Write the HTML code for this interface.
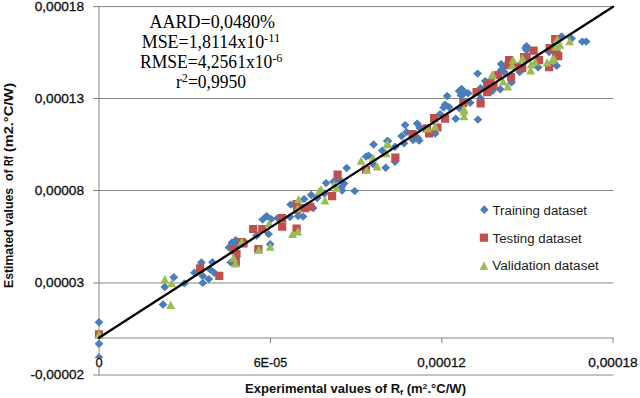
<!DOCTYPE html>
<html><head><meta charset="utf-8"><title>Rf chart</title>
<style>
html,body{margin:0;padding:0;background:#fff;}
body{width:640px;height:398px;overflow:hidden;}
svg{display:block;}
.s{font-family:"Liberation Sans",sans-serif;fill:#111;stroke:#111;stroke-width:0.3px;}
.t{font-family:"Liberation Serif",serif;fill:#000;}
</style></head><body>
<svg width="640" height="398" viewBox="0 0 640 398">
<rect width="640" height="398" fill="#fff"/>
<g stroke="#868686" stroke-width="1" fill="none"><path d="M93 6.6H613.6"/><path d="M93 98.5H613.6"/><path d="M93 190.5H613.6"/><path d="M93 283.0H613.6"/><path d="M93 375.0H613.6"/>
<path d="M99 6V375.5"/>
<path d="M99 338H613.6"/>
<path d="M270.4 338V343.2M441.8 338V343.2M613.1 338V343.2"/>
</g>
<path d="M94.6 322.3L99.0 318.1L103.4 322.3L99.0 326.5ZM94.6 343.7L99.0 339.5L103.4 343.7L99.0 347.9ZM94.6 357.5L99.0 353.3L103.4 357.5L99.0 361.7ZM169.4 277.3L173.8 273.1L178.2 277.3L173.8 281.5ZM160.4 287.0L164.8 282.8L169.2 287.0L164.8 291.2ZM180.0 283.4L184.4 279.2L188.8 283.4L184.4 287.6ZM158.6 304.5L163.0 300.3L167.4 304.5L163.0 308.7ZM196.9 262.5L201.3 258.3L205.7 262.5L201.3 266.7ZM190.1 272.8L194.5 268.6L198.9 272.8L194.5 277.0ZM198.4 276.1L202.8 271.9L207.2 276.1L202.8 280.3ZM198.4 282.9L202.8 278.7L207.2 282.9L202.8 287.1ZM204.4 279.1L208.8 274.9L213.2 279.1L208.8 283.3ZM208.1 262.2L212.5 258.0L216.9 262.2L212.5 266.4ZM205.5 269.2L209.9 265.0L214.3 269.2L209.9 273.4ZM209.9 272.7L214.3 268.5L218.7 272.7L214.3 276.9ZM224.6 247.4L229.0 243.2L233.4 247.4L229.0 251.6ZM227.4 242.8L231.8 238.6L236.2 242.8L231.8 247.0ZM231.4 240.1L235.8 235.9L240.2 240.1L235.8 244.3ZM229.1 246.0L233.5 241.8L237.9 246.0L233.5 250.2ZM233.6 246.0L238.0 241.8L242.4 246.0L238.0 250.2ZM226.4 262.4L230.8 258.2L235.2 262.4L230.8 266.6ZM258.2 219.6L262.6 215.4L267.0 219.6L262.6 223.8ZM262.2 216.1L266.6 211.9L271.0 216.1L266.6 220.3ZM266.7 219.1L271.1 214.9L275.5 219.1L271.1 223.3ZM264.2 234.1L268.6 229.9L273.0 234.1L268.6 238.3ZM252.2 235.5L256.6 231.3L261.0 235.5L256.6 239.7ZM273.2 218.1L277.6 213.9L282.0 218.1L277.6 222.3ZM265.8 244.3L270.2 240.1L274.6 244.3L270.2 248.5ZM286.2 204.6L290.6 200.4L295.0 204.6L290.6 208.8ZM299.7 199.1L304.1 194.9L308.5 199.1L304.1 203.3ZM306.8 195.0L311.2 190.8L315.6 195.0L311.2 199.2ZM312.8 198.0L317.2 193.8L321.6 198.0L317.2 202.2ZM308.8 208.1L313.2 203.9L317.6 208.1L313.2 212.3ZM293.7 216.1L298.1 211.9L302.5 216.1L298.1 220.3ZM298.7 216.6L303.1 212.4L307.5 216.6L303.1 220.8ZM285.6 217.1L290.0 212.9L294.4 217.1L290.0 221.3ZM342.3 168.0L346.7 163.8L351.1 168.0L346.7 172.2ZM321.7 183.1L326.1 178.9L330.5 183.1L326.1 187.3ZM329.2 181.6L333.6 177.4L338.0 181.6L333.6 185.8ZM334.7 179.1L339.1 174.9L343.5 179.1L339.1 183.3ZM339.7 183.6L344.1 179.4L348.5 183.6L344.1 187.8ZM337.2 187.1L341.6 182.9L346.0 187.1L341.6 191.3ZM337.7 190.6L342.1 186.4L346.5 190.6L342.1 194.8ZM350.3 191.1L354.7 186.9L359.1 191.1L354.7 195.3ZM320.1 193.5L324.5 189.3L328.9 193.5L324.5 197.7ZM369.2 144.5L373.6 140.3L378.0 144.5L373.6 148.7ZM382.8 141.0L387.2 136.8L391.6 141.0L387.2 145.2ZM377.8 150.6L382.2 146.4L386.6 150.6L382.2 154.8ZM361.7 156.6L366.1 152.4L370.5 156.6L366.1 160.8ZM364.2 155.6L368.6 151.4L373.0 155.6L368.6 159.8ZM368.7 164.1L373.1 159.9L377.5 164.1L373.1 168.3ZM381.3 167.7L385.7 163.5L390.1 167.7L385.7 171.9ZM400.7 125.1L405.1 120.9L409.5 125.1L405.1 129.3ZM412.8 123.6L417.2 119.4L421.6 123.6L417.2 127.8ZM415.3 127.1L419.7 122.9L424.1 127.1L419.7 131.3ZM402.2 132.1L406.6 127.9L411.0 132.1L406.6 136.3ZM397.2 136.1L401.6 131.9L406.0 136.1L401.6 140.3ZM399.7 143.2L404.1 139.0L408.5 143.2L404.1 147.4ZM408.7 140.1L413.1 135.9L417.5 140.1L413.1 144.3ZM414.8 140.6L419.2 136.4L423.6 140.6L419.2 144.8ZM383.6 141.1L388.0 136.9L392.4 141.1L388.0 145.3ZM390.6 146.7L395.0 142.5L399.4 146.7L395.0 150.9ZM390.6 161.8L395.0 157.6L399.4 161.8L395.0 166.0ZM442.7 96.0L447.1 91.8L451.5 96.0L447.1 100.2ZM440.7 104.6L445.1 100.4L449.5 104.6L445.1 108.8ZM444.7 107.1L449.1 102.9L453.5 107.1L449.1 111.3ZM439.2 107.6L443.6 103.4L448.0 107.6L443.6 111.8ZM435.7 114.1L440.1 109.9L444.5 114.1L440.1 118.3ZM451.3 118.7L455.7 114.5L460.1 118.7L455.7 122.9ZM454.8 91.0L459.2 86.8L463.6 91.0L459.2 95.2ZM454.8 108.1L459.2 103.9L463.6 108.1L459.2 112.3ZM430.8 133.5L435.2 129.3L439.6 133.5L435.2 137.7ZM413.4 138.0L417.8 133.8L422.2 138.0L417.8 142.2ZM415.7 128.3L420.1 124.1L424.5 128.3L420.1 132.5ZM457.2 89.0L461.6 84.8L466.0 89.0L461.6 93.2ZM457.9 95.1L462.3 90.9L466.7 95.1L462.3 99.3ZM473.2 73.6L477.6 69.4L482.0 73.6L477.6 77.8ZM480.8 81.1L485.2 76.9L489.6 81.1L485.2 85.3ZM476.2 88.1L480.6 83.9L485.0 88.1L480.6 92.3ZM457.1 89.1L461.5 84.9L465.9 89.1L461.5 93.3ZM460.6 92.2L465.0 88.0L469.4 92.2L465.0 96.4ZM463.7 93.2L468.1 89.0L472.5 93.2L468.1 97.4ZM456.6 95.2L461.0 91.0L465.4 95.2L461.0 99.4ZM487.8 91.1L492.2 86.9L496.6 91.1L492.2 95.3ZM476.2 98.3L480.6 94.1L485.0 98.3L480.6 102.5ZM465.7 102.8L470.1 98.6L474.5 102.8L470.1 107.0ZM473.5 119.6L477.9 115.4L482.3 119.6L477.9 123.8ZM521.3 48.0L525.7 43.8L530.1 48.0L525.7 52.2ZM499.6 72.0L504.0 67.8L508.4 72.0L504.0 76.2ZM496.7 64.1L501.1 59.9L505.5 64.1L501.1 68.3ZM499.2 67.6L503.6 63.4L508.0 67.6L503.6 71.8ZM496.7 70.1L501.1 65.9L505.5 70.1L501.1 74.3ZM515.3 72.1L519.7 67.9L524.1 72.1L519.7 76.3ZM485.6 80.7L490.0 76.5L494.4 80.7L490.0 84.9ZM495.8 89.2L500.2 85.0L504.6 89.2L500.2 93.4ZM507.2 82.4L511.6 78.2L516.0 82.4L511.6 86.6ZM522.1 46.1L526.5 41.9L530.9 46.1L526.5 50.3ZM522.1 50.1L526.5 45.9L530.9 50.1L526.5 54.3ZM533.7 67.2L538.1 63.0L542.5 67.2L538.1 71.4ZM544.7 52.1L549.1 47.9L553.5 52.1L549.1 56.3ZM552.3 65.7L556.7 61.5L561.1 65.7L556.7 69.9ZM577.8 41.6L582.2 37.4L586.6 41.6L582.2 45.8ZM581.8 41.6L586.2 37.4L590.6 41.6L586.2 45.8ZM567.2 38.6L571.6 34.4L576.0 38.6L571.6 42.8ZM557.2 36.5L561.6 32.3L566.0 36.5L561.6 40.7Z" fill="#4a7ebb"/>
<path d="M94.9 330.2h8.2v8.2h-8.2ZM196.1 264.2h8.2v8.2h-8.2ZM215.2 271.7h8.2v8.2h-8.2ZM237.6 238.0h8.2v8.2h-8.2ZM239.4 239.4h8.2v8.2h-8.2ZM229.5 246.0h8.2v8.2h-8.2ZM232.4 249.9h8.2v8.2h-8.2ZM231.7 257.7h8.2v8.2h-8.2ZM249.1 224.9h8.2v8.2h-8.2ZM258.2 224.9h8.2v8.2h-8.2ZM278.1 214.0h8.2v8.2h-8.2ZM278.1 222.5h8.2v8.2h-8.2ZM254.2 245.1h8.2v8.2h-8.2ZM292.5 200.0h8.2v8.2h-8.2ZM293.0 205.5h8.2v8.2h-8.2ZM301.0 204.0h8.2v8.2h-8.2ZM306.1 202.5h8.2v8.2h-8.2ZM292.5 224.4h8.2v8.2h-8.2ZM333.5 170.5h8.2v8.2h-8.2ZM328.0 192.1h8.2v8.2h-8.2ZM361.9 165.7h8.2v8.2h-8.2ZM408.5 130.0h8.2v8.2h-8.2ZM391.3 153.6h8.2v8.2h-8.2ZM430.0 114.1h8.2v8.2h-8.2ZM441.0 114.6h8.2v8.2h-8.2ZM433.3 123.4h8.2v8.2h-8.2ZM422.8 124.2h8.2v8.2h-8.2ZM425.0 129.4h8.2v8.2h-8.2ZM483.1 82.0h8.2v8.2h-8.2ZM483.1 88.1h8.2v8.2h-8.2ZM472.5 88.1h8.2v8.2h-8.2ZM476.5 99.2h8.2v8.2h-8.2ZM459.2 98.9h8.2v8.2h-8.2ZM489.4 82.1h8.2v8.2h-8.2ZM505.0 56.0h8.2v8.2h-8.2ZM504.5 61.0h8.2v8.2h-8.2ZM520.1 53.0h8.2v8.2h-8.2ZM518.1 64.0h8.2v8.2h-8.2ZM507.0 73.1h8.2v8.2h-8.2ZM493.9 71.1h8.2v8.2h-8.2ZM486.4 79.1h8.2v8.2h-8.2ZM529.5 46.5h8.2v8.2h-8.2ZM522.4 53.0h8.2v8.2h-8.2ZM535.0 56.1h8.2v8.2h-8.2ZM551.1 35.0h8.2v8.2h-8.2ZM545.5 44.0h8.2v8.2h-8.2ZM552.1 49.0h8.2v8.2h-8.2ZM554.1 52.0h8.2v8.2h-8.2ZM545.0 63.1h8.2v8.2h-8.2ZM512.9 62.4h8.2v8.2h-8.2ZM551.9 36.0h8.2v8.2h-8.2ZM552.4 49.5h8.2v8.2h-8.2Z" fill="#c0504d"/>
<path d="M94.6 338.5L99.0 330.1L103.4 338.5ZM160.4 283.3L164.8 274.9L169.2 283.3ZM167.2 287.1L171.6 278.7L176.0 287.1ZM166.3 309.0L170.7 300.6L175.1 309.0ZM237.3 245.7L241.7 237.3L246.1 245.7ZM229.2 262.0L233.6 253.6L238.0 262.0ZM231.0 267.4L235.4 259.0L239.8 267.4ZM264.7 227.3L269.1 218.9L273.5 227.3ZM265.8 250.7L270.2 242.3L274.6 250.7ZM254.4 253.8L258.8 245.4L263.2 253.8ZM294.2 203.3L298.6 194.9L303.0 203.3ZM293.2 212.3L297.6 203.9L302.0 212.3ZM314.8 195.2L319.2 186.8L323.6 195.2ZM288.2 238.0L292.6 229.6L297.0 238.0ZM293.5 235.4L297.9 227.0L302.3 235.4ZM329.7 188.8L334.1 180.4L338.5 188.8ZM332.2 191.8L336.6 183.4L341.0 191.8ZM316.6 193.3L321.0 184.9L325.4 193.3ZM320.6 204.4L325.0 196.0L329.4 204.4ZM382.8 147.7L387.2 139.3L391.6 147.7ZM381.8 157.3L386.2 148.9L390.6 157.3ZM356.7 164.8L361.1 156.4L365.5 164.8ZM368.7 161.8L373.1 153.4L377.5 161.8ZM372.7 170.4L377.1 162.0L381.5 170.4ZM362.2 173.9L366.6 165.5L371.0 173.9ZM383.6 148.4L388.0 140.0L392.4 148.4ZM430.7 130.4L435.1 122.0L439.5 130.4ZM423.2 132.5L427.6 124.1L432.0 132.5ZM459.6 115.2L464.0 106.8L468.4 115.2ZM459.6 120.2L464.0 111.8L468.4 120.2ZM487.8 79.3L492.2 70.9L496.6 79.3ZM459.6 113.0L464.0 104.6L468.4 113.0ZM508.7 63.8L513.1 55.4L517.5 63.8ZM507.7 69.3L512.1 60.9L516.5 69.3ZM517.8 63.3L522.2 54.9L526.6 63.3ZM488.1 78.3L492.5 69.9L496.9 78.3ZM498.7 85.4L503.1 77.0L507.5 85.4ZM503.4 90.4L507.8 82.0L512.2 90.4ZM518.1 62.4L522.5 54.0L526.9 62.4ZM530.7 65.4L535.1 57.0L539.5 65.4ZM526.7 68.4L531.1 60.0L535.5 68.4ZM552.8 43.3L557.2 34.9L561.6 43.3ZM551.3 50.8L555.7 42.4L560.1 50.8ZM542.7 66.4L547.1 58.0L551.5 66.4ZM547.8 63.9L552.2 55.5L556.6 63.9ZM526.2 74.4L530.6 66.0L535.0 74.4ZM565.2 45.3L569.6 36.9L574.0 45.3ZM555.6 48.8L560.0 40.4L564.4 48.8ZM551.6 50.3L556.0 41.9L560.4 50.3ZM549.6 62.4L554.0 54.0L558.4 62.4Z" fill="#9bbb59"/>
<path d="M99 337.8L613.1 6.8" stroke="#000" stroke-width="2.3" stroke-linecap="round" fill="none"/>
<g class="s" font-size="12.6">
<text x="84" y="10.8" text-anchor="end" textLength="49.3" lengthAdjust="spacingAndGlyphs">0,00018</text>
<text x="84" y="102.6" text-anchor="end" textLength="49.3" lengthAdjust="spacingAndGlyphs">0,00013</text>
<text x="84" y="194.6" text-anchor="end" textLength="49.3" lengthAdjust="spacingAndGlyphs">0,00008</text>
<text x="84" y="286.6" text-anchor="end" textLength="49.3" lengthAdjust="spacingAndGlyphs">0,00003</text>
<text x="84" y="378.6" text-anchor="end" textLength="53.5" lengthAdjust="spacingAndGlyphs">-0,00002</text>
</g>
<rect x="95" y="358" width="8" height="9" fill="#fff"/>
<g class="s" font-size="12.9" text-anchor="middle">
<text x="99" y="366.8">0</text>
<text x="270.4" y="366.8" textLength="33.5" lengthAdjust="spacingAndGlyphs">6E-05</text>
<text x="441.6" y="366.8" textLength="48.5" lengthAdjust="spacingAndGlyphs">0,00012</text>
<text x="613" y="366.8" textLength="49.5" lengthAdjust="spacingAndGlyphs">0,00018</text>
</g>
<g class="s" font-size="12" font-weight="bold" style="stroke:none">
<text x="245" y="393" textLength="221" lengthAdjust="spacingAndGlyphs">Experimental values of R<tspan font-size="8" dy="2">f</tspan><tspan dy="-2"> (m</tspan><tspan font-size="8" dy="-4">2</tspan><tspan dy="4">.°C/W)</tspan></text>
<g transform="translate(13 288) rotate(-90)">
<text x="0" y="0" textLength="100" lengthAdjust="spacingAndGlyphs">Estimated values</text>
<text x="107" y="0" textLength="11.5" lengthAdjust="spacingAndGlyphs">of</text>
<text x="122" y="0" textLength="9.8" lengthAdjust="spacingAndGlyphs">Rf</text>
<text x="135.8" y="0" textLength="69.2" lengthAdjust="spacingAndGlyphs">(m2.°C/W)</text>
</g>
</g>
<g class="s" font-size="12" style="stroke:none;fill:#1a1a1a">
<path d="M484.3 205.3L488.6 209.7L484.3 214.1L480 209.7Z" fill="#4a7ebb" stroke="none"/>
<rect x="479.8" y="233.6" width="8.2" height="8.2" fill="#c0504d" stroke="none"/>
<path d="M479.6 270L483.9 261.3L488.2 270Z" fill="#9bbb59" stroke="none"/>
<text x="492.5" y="214.7" textLength="94.5" lengthAdjust="spacingAndGlyphs">Training dataset</text>
<text x="492.5" y="242.5" textLength="89.3" lengthAdjust="spacingAndGlyphs">Testing dataset</text>
<text x="492.2" y="270.4" textLength="106.5" lengthAdjust="spacingAndGlyphs">Validation  dataset</text>
</g>
<g class="t" font-size="17.8" text-anchor="middle">
<text x="212.3" y="27.5" textLength="125.5" lengthAdjust="spacingAndGlyphs">AARD=0,0480%</text>
<text x="211" y="47.5" textLength="138.5" lengthAdjust="spacingAndGlyphs">MSE=1,8114x10<tspan font-size="12.4" dy="-5.6">-11</tspan></text>
<text x="211.2" y="68" textLength="142.5" lengthAdjust="spacingAndGlyphs">RMSE=4,2561x10<tspan font-size="12.4" dy="-5.6">-6</tspan></text>
<text x="211" y="88" textLength="70" lengthAdjust="spacingAndGlyphs">r<tspan font-size="12.4" dy="-5.6">2</tspan><tspan dy="5.6">=0,9950</tspan></text>
</g>
</svg>
</body></html>
